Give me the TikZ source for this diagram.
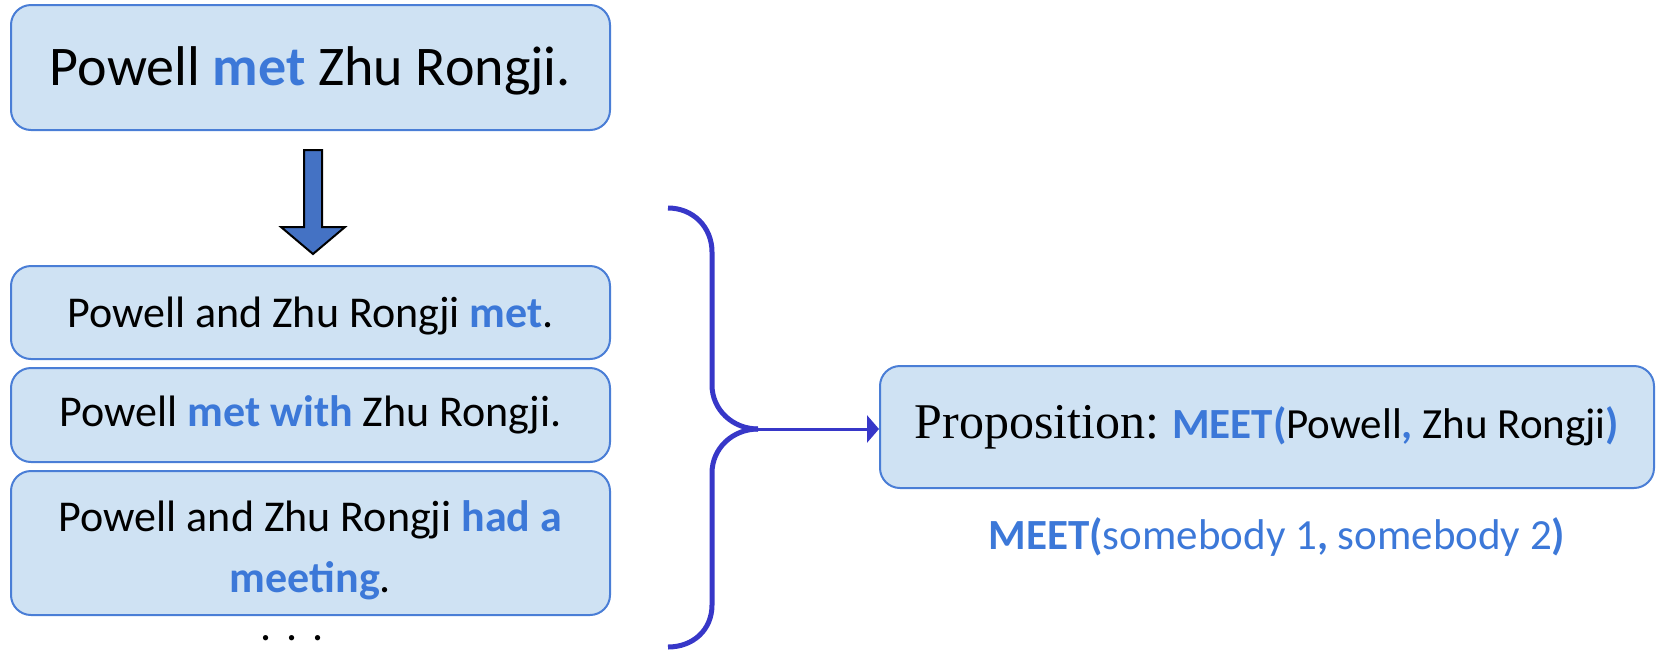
\documentclass[tikz,border=0pt]{standalone}
\usepackage{fontspec}
\setmainfont{Carlito}
\newfontfamily\timesf{Liberation Serif}
\usetikzlibrary{arrows.meta}
\definecolor{boxfill}{RGB}{207,226,243}
\definecolor{boxline}{RGB}{74,126,214}
\definecolor{hlc}{RGB}{60,120,216}
\definecolor{bracec}{RGB}{55,55,200}
\definecolor{arrowfill}{RGB}{68,114,196}
\newcommand\hlw[1]{\textcolor{hlc}{\textbf{#1}}}
\newcommand\lowerby[2]{\raisebox{-#1}[\height][\depth]{#2}}
\begin{document}
\begin{tikzpicture}[x=1pt,y=-1pt,
  sbox/.style={draw=boxline,fill=boxfill,line width=2pt,rounded corners=20pt,
    minimum width=599pt,inner sep=0pt,align=center},
  bracestyle/.style={draw=bracec,line width=5pt},
  bigfont/.style={font=\fontsize{56}{67}\selectfont},
  midfont/.style={font=\fontsize{44}{61}\selectfont}]
\useasboundingbox (0,0) rectangle (1657,649);
\node[sbox,bigfont,minimum height=125pt] (top) at (310.5,67.5)
  {\lowerby{3pt}{Powell \hlw{met} Zhu Rongji.}};
\node[sbox,midfont,minimum height=93pt] (s1) at (310.5,312.5)
  {\lowerby{3pt}{Powell and Zhu Rongji \hlw{met}.}};
\node[sbox,midfont,minimum height=94pt] (s2) at (310.5,415)
  {Powell \hlw{met with} Zhu Rongji.};
\node[sbox,midfont,minimum height=144pt] (s3) at (310.5,543)
  {\lowerby{7pt}{\begin{tabular}{@{}c@{}}Powell and Zhu Rongji \hlw{had a}\\\hlw{meeting}.\end{tabular}}};
\node[midfont,anchor=base,inner sep=0pt] (dots) at (292,640) {.\,\,.\,\,.};
% block arrow
\draw[fill=arrowfill,line width=2pt,line join=miter]
  (304,150) -- (322,150) -- (322,227) -- (345,227) -- (313,254)
  -- (281,227) -- (304,227) -- cycle;
% brace
\coordinate (bracetip) at (758,429);
\draw[bracestyle]
  (668,208) .. controls (693,208) and (712,227) .. (712,252)
  -- (712,385) .. controls (712,410) and (733,429) .. (bracetip);
\draw[bracestyle]
  (bracetip) .. controls (733,429) and (712,448) .. (712,473)
  -- (712,605) .. controls (712,630) and (693,647) .. (668,647);
% proposition
\node[sbox,minimum width=774pt,minimum height=122pt,
  font=\fontsize{43}{52}\selectfont] (prop) at (1267,427)
  {{\timesf\fontsize{50}{60}\selectfont Proposition:} \hlw{MEET(}Powell\hlw{,} Zhu Rongji\hlw{)}};
\draw[bracec,line width=3pt,-{Triangle[length=12pt,width=27pt]}]
  (bracetip) -- (bracetip -| prop.west);
\node[font=\fontsize{43}{52}\selectfont,text=hlc] (meet) at (1277,537)
  {\textbf{MEET(}somebody 1\textbf{,} somebody 2\textbf{)}};
\end{tikzpicture}
\end{document}
